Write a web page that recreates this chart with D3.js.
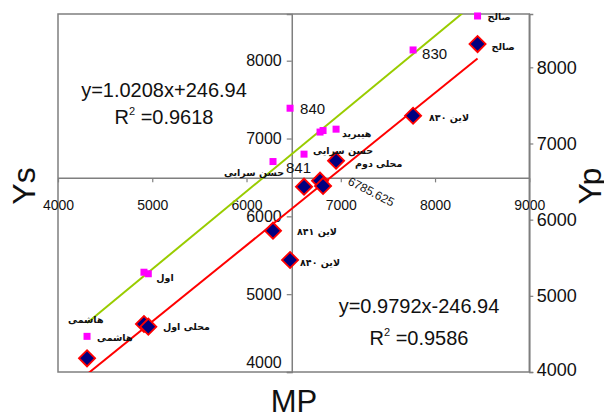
<!DOCTYPE html>
<html>
<head>
<meta charset="utf-8">
<script src="https://cdn.jsdelivr.net/npm/d3@7/dist/d3.min.js"></script>
<style>
  html, body { margin: 0; padding: 0; background: #fff; }
  svg { display: block; }
</style>
</head>
<body>
<svg id="chart" width="604" height="416"></svg>
<script>
// ---- data ----
const genotypes = ["هاشمی", "محلی اول", "اول", "لاین ۸۴۱", "لاین ۸۴۰", "حسن سرایی", "هیبرید", "6785.625", "محلی دوم", "لاین ۸۳۰", "صالح"];
const mpValues      = [4308, 4912, 4958, 6281, 6462, 6610, 6780, 6812, 6950, 7767, 8451];
const diamondValues = [4176, 4617, 4582, 5816, 5439, 6381, 6458, 6390, 6715, 7293, 8214]; // on left (Ys) axis
const squareValues  = [4468, 5310, 5290, 6763, 7463, 6860, 7150, 7170, 7188, 8228, 8674]; // on right (Yp) axis

const xTicks = [4000, 5000, 6000, 7000, 8000, 9000];
const ysTicks = [4000, 5000, 6000, 7000, 8000];
const ypTicks = [4000, 5000, 6000, 7000, 8000];

const greenEq = { slope: 1.0208, intercept: 246.94, text: "y=1.0208x+246.94", r2: "=0.9618" };
const redEq   = { slope: 0.9792, intercept: -246.94, text: "y=0.9792x-246.94", r2: "=0.9586" };

// labels: text and which point / series they belong to
const squareLabels = [
  { i: 10, text: "صالح", dx: 10, dy: 4, ar: true },
  { i: 9,  text: "830", dx: 9, dy: 9, ar: false },
  { i: 4,  text: "840", dx: 10, dy: 6, ar: false },
  { i: 8,  text: "هیبرید", dx: 6, dy: 8, ar: true },
  { i: 5,  text: "حسن سرایی", dx: 9, dy: 0, ar: true },
  { i: 3,  text: "841", dx: 13, dy: 11, ar: false },
  { i: 3,  text: "حسن سرایی", dx: 11, dy: 14, ar: true, end: true },
  { i: 2,  text: "اول", dx: 8, dy: 7, ar: true },
  { i: 0,  text: "هاشمی", dx: 10, dy: 5, ar: true },
  { i: 0,  text: "هاشمی", dx: -19, dy: -13, ar: true }
];
const diamondLabels = [
  { i: 10, text: "صالح", dx: 14, dy: 6, ar: true },
  { i: 9,  text: "لاین ۸۳۰", dx: 16, dy: 5, ar: true },
  { i: 8,  text: "محلی دوم", dx: 19, dy: 6, ar: true },
  { i: 3,  text: "لاین ۸۴۱", dx: 24, dy: 4, ar: true },
  { i: 4,  text: "لاین ۸۴۰", dx: 10, dy: 6, ar: true },
  { i: 1,  text: "محلی اول", dx: 19, dy: 6, ar: true }
];

// ---- scales ----
const svg = d3.select("#chart");
const plot = { left: 58, right: 529.3, top: 14, bottom: 372 };
const x  = d3.scaleLinear().domain([4000, 9000]).range([plot.left, plot.right]);
const yL = d3.scaleLinear().domain([4000, 8600]).range([plot.bottom, plot.top]);
const yR = d3.scaleLinear().domain([4000, 8700]).range([plot.bottom, plot.top]);
const xCross = 6480;   // MP value where the left axis sits
const yCross = 6488;   // Ys value where the MP axis sits

const axisColor = "#7f7f7f";

// clip
svg.append("defs").append("clipPath").attr("id", "clip")
  .append("rect").attr("x", plot.left).attr("y", plot.top)
  .attr("width", plot.right - plot.left).attr("height", plot.bottom - plot.top);

// plot frame
svg.append("rect")
  .attr("x", plot.left).attr("y", plot.top)
  .attr("width", plot.right - plot.left).attr("height", plot.bottom - plot.top)
  .attr("fill", "none").attr("stroke", axisColor).attr("stroke-width", 1.5);

function styleAxis(g, size) {
  g.select(".domain").attr("stroke", axisColor).attr("stroke-width", 1.5);
  g.selectAll(".tick line").attr("stroke", axisColor).attr("stroke-width", 1.2);
  g.selectAll(".tick text").attr("fill", "#111")
    .attr("font-family", "Liberation Sans, Arial, sans-serif").attr("font-size", size);
}

// MP axis (crossing)
const gx = svg.append("g").attr("transform", `translate(0,${yL(yCross)})`)
  .call(d3.axisBottom(x).tickValues(xTicks).tickSize(4).tickPadding(18).tickFormat(d3.format("d")));
styleAxis(gx, 14);
gx.select(".domain").attr("d", `M${plot.left},0H${plot.right}`);

// Ys axis (crossing)
const gyl = svg.append("g").attr("transform", `translate(${x(xCross)},0)`)
  .call(d3.axisLeft(yL).tickValues(ysTicks).tickSize(5).tickPadding(5).tickFormat(d3.format("d")));
styleAxis(gyl, 16);
gyl.selectAll(".tick text").filter(d => d === 4000).attr("dy", "-0.3em");

// Yp axis (right)
const gyr = svg.append("g").attr("transform", `translate(${plot.right},0)`)
  .call(d3.axisRight(yR).tickValues(ypTicks).tickSize(4).tickPadding(3.5).tickFormat(d3.format("d")));
styleAxis(gyr, 18);
gyr.selectAll(".tick text").filter(d => d === 4000).attr("dy", "0.2em");

// ---- trendlines ----
const mpExtent = d3.extent(mpValues);
const lines = svg.append("g").attr("clip-path", "url(#clip)");
lines.append("line")
  .attr("x1", x(mpExtent[0])).attr("y1", yR(greenEq.slope * mpExtent[0] + greenEq.intercept))
  .attr("x2", x(mpExtent[1])).attr("y2", yR(greenEq.slope * mpExtent[1] + greenEq.intercept))
  .attr("stroke", "#99cc00").attr("stroke-width", 2);
lines.append("line")
  .attr("x1", x(mpExtent[0])).attr("y1", yL(redEq.slope * mpExtent[0] + redEq.intercept))
  .attr("x2", x(mpExtent[1])).attr("y2", yL(redEq.slope * mpExtent[1] + redEq.intercept))
  .attr("stroke", "#ff0000").attr("stroke-width", 2);

// ---- markers ----
const idx = d3.range(mpValues.length);
svg.append("g").selectAll("rect").data(idx).join("rect")
  .attr("x", i => x(mpValues[i]) - 3.5).attr("y", i => yR(squareValues[i]) - 3.5)
  .attr("width", 7).attr("height", 7).attr("fill", "#ff00ff");

svg.append("g").selectAll("path").data(idx).join("path")
  .attr("transform", i => `translate(${x(mpValues[i])},${yL(diamondValues[i])}) rotate(45)`)
  .attr("d", d3.symbol().type(d3.symbolSquare).size(130))
  .attr("fill", "#000080").attr("stroke", "#ff0000").attr("stroke-width", 1.8);

// ---- point labels ----
function addLabels(list, yScale, vals) {
  svg.append("g").selectAll("text").data(list).join("text")
    .attr("x", d => x(mpValues[d.i]) + d.dx)
    .attr("y", d => yScale(vals[d.i]) + d.dy)
    .attr("text-anchor", d => d.end ? "end" : "start")
    .attr("font-family", d => d.ar ? "DejaVu Sans, sans-serif" : "Liberation Sans, Arial, sans-serif")
    .attr("font-size", d => d.ar ? 9.5 : 15)
    .attr("font-weight", d => d.ar ? "bold" : "normal")
    .attr("fill", "#111")
    .text(d => d.text);
}
addLabels(squareLabels, yR, squareValues);
addLabels(diamondLabels, yL, diamondValues);

// rotated value label
const vi = 7;
svg.append("text")
  .attr("transform", `translate(${x(mpValues[vi]) + 24},${yL(diamondValues[vi]) - 2}) rotate(27)`)
  .attr("font-family", "Liberation Sans, Arial, sans-serif").attr("font-size", 12)
  .attr("fill", "#111").text(genotypes[vi]);

// ---- equations ----
function eq(cx, y1, y2, e) {
  const g = svg.append("g").attr("font-family", "Liberation Sans, Arial, sans-serif").attr("fill", "#111");
  g.append("text").attr("x", cx).attr("y", y1).attr("text-anchor", "middle").attr("font-size", 20).text(e.text);
  const t = g.append("text").attr("x", cx).attr("y", y2).attr("text-anchor", "middle").attr("font-size", 20);
  t.append("tspan").text("R");
  t.append("tspan").attr("font-size", 11).attr("dy", -9).text("2");
  t.append("tspan").attr("dy", 9).text(" " + e.r2);
}
eq(164, 97, 124, greenEq);
eq(419, 313, 345, redEq);

// ---- axis titles ----
const titleFont = "Liberation Sans, Arial, sans-serif";
svg.append("text").attr("transform", "translate(35,186) rotate(-90)")
  .attr("text-anchor", "middle").attr("font-family", titleFont).attr("font-size", 32).attr("fill", "#111").text("Ys");
svg.append("text").attr("transform", "translate(601,186) rotate(-90)")
  .attr("text-anchor", "middle").attr("font-family", titleFont).attr("font-size", 32).attr("fill", "#111").text("Yp");
svg.append("text").attr("x", 294).attr("y", 412)
  .attr("text-anchor", "middle").attr("font-family", titleFont).attr("font-size", 31).attr("fill", "#111").text("MP");
</script>
</body>
</html>
